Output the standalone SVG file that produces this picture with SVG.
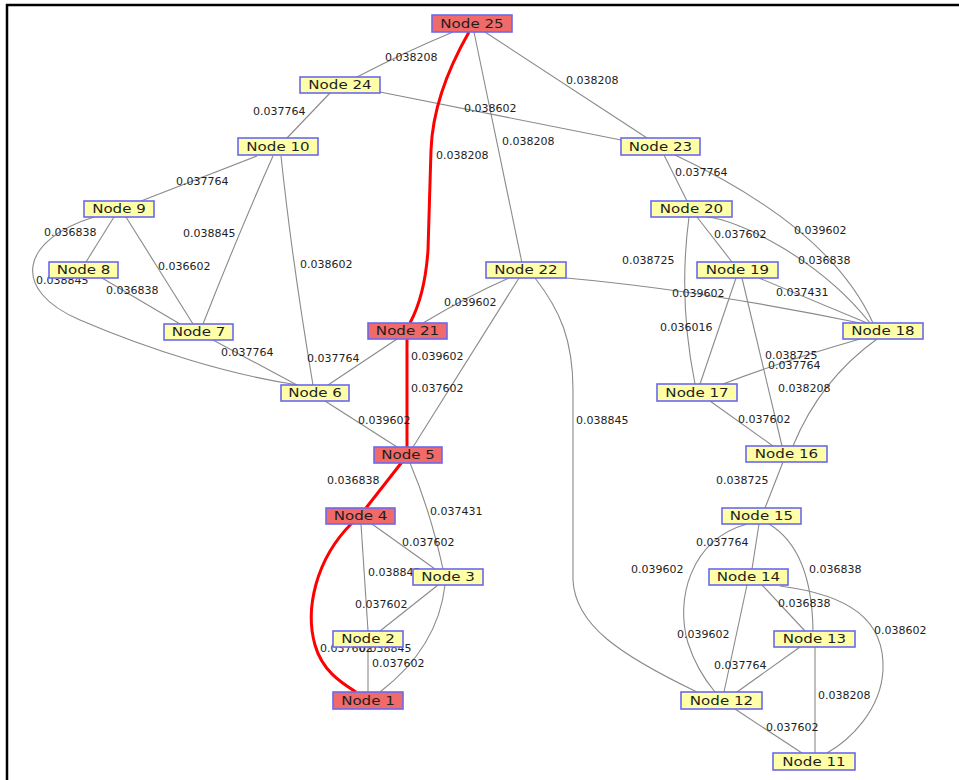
<svg xmlns="http://www.w3.org/2000/svg" width="959" height="780" viewBox="0 0 959 780">
<style>
  .edge { fill: none; stroke: #8a8a8a; stroke-width: 1.1; }
  .path { fill: none; stroke: #ff0000; stroke-width: 3; }
  .lbl { font: 11px "DejaVu Sans", sans-serif; fill: #1e1e1e; }
  .box { fill: #ffffa8; stroke: #6a6af2; stroke-width: 1.6; }
  .hot .box { fill: #f06a6a; }
  .nt { font: 13px "DejaVu Sans", sans-serif; fill: #1e1e1e; text-anchor: middle;
        transform-box: fill-box; transform-origin: center; transform: scaleX(1.16); }
</style>
<rect width="959" height="780" fill="#ffffff"/>
<!-- frame -->
<path d="M7,780 L7,5 L959,5" fill="none" stroke="#000" stroke-width="2.5"/>

<g id="connectors">
  <!-- left half -->
  <path class="edge" d="M453,32 Q405,52 357,77"/>
  <path class="edge" d="M330,93 L287,138"/>
  <path class="edge" d="M380,92 L621,140"/>
  <path class="edge" d="M485,32 L647,138"/>
  <path class="edge" d="M474,32 L522,263"/>
  <path class="edge" d="M257,156 L141,201"/>
  <path class="edge" d="M273,156 Q240,230 203,324"/>
  <path class="edge" d="M281,156 Q292,260 313,385"/>
  <path class="edge" d="M114,217 L86,262"/>
  <path class="edge" d="M126,217 L193,324"/>
  <path class="edge" d="M94,217 C20,240 10,290 80,320 C150,350 230,375 298,385"/>
  <path class="edge" d="M102,278 L180,324"/>
  <path class="edge" d="M213,340 L297,385"/>
  <path class="edge" d="M397,339 L328,385"/>
  <path class="edge" d="M325,401 L397,447"/>
  <path class="edge" d="M423,323 Q470,295 509,278"/>
  <path class="edge" d="M519,278 L413,447"/>
  <path class="edge" d="M535,278 C560,310 573,340 573,390 L573,580 C575,625 620,655 697,692"/>
  <path class="edge" d="M410,463 Q430,510 443,569"/>
  <path class="edge" d="M372,524 L435,569"/>
  <path class="edge" d="M361,524 L368,631"/>
  <path class="edge" d="M438,585 L380,631"/>
  <path class="edge" d="M445,585 C440,630 415,665 380,692"/>
  <path class="edge" d="M368,647 L368,692"/>
  <!-- right half -->
  <path class="edge" d="M664,155 L687,201"/>
  <path class="edge" d="M675,155 C760,195 840,250 873,323"/>
  <path class="edge" d="M697,217 L732,262"/>
  <path class="edge" d="M707,217 C740,220 820,260 870,323"/>
  <path class="edge" d="M689,217 Q678,300 695,384"/>
  <path class="edge" d="M736,278 L700,384"/>
  <path class="edge" d="M742,278 L782,446"/>
  <path class="edge" d="M566,278 Q700,290 860,323"/>
  <path class="edge" d="M759,278 L867,323"/>
  <path class="edge" d="M860,339 Q780,362 723,384"/>
  <path class="edge" d="M877,339 Q820,380 793,446"/>
  <path class="edge" d="M710,401 L773,446"/>
  <path class="edge" d="M783,462 L765,508"/>
  <path class="edge" d="M759,524 L752,569"/>
  <path class="edge" d="M747,524 C690,540 675,600 688,643 C695,665 705,680 715,692"/>
  <path class="edge" d="M769,524 Q812,550 813,631"/>
  <path class="edge" d="M762,585 L805,631"/>
  <path class="edge" d="M780,586 C850,595 885,620 883,670 C881,710 850,740 827,753"/>
  <path class="edge" d="M747,585 Q735,640 724,692"/>
  <path class="edge" d="M800,647 L737,692"/>
  <path class="edge" d="M815,647 L815,753"/>
  <path class="edge" d="M735,709 L802,753"/>
  <!-- highlighted route 25-21-5-4-1 -->
  <path class="path" d="M469,32 Q433,95 431,150 L428,250 Q425,295 410,323"/>
  <path class="path" d="M407,339 L407,447"/>
  <path class="path" d="M402,462 L366,508"/>
  <path class="path" d="M352,523 C315,560 305,610 315,645 C322,670 340,682 356,692"/>
</g>

<g id="weights">
  <text class="lbl" x="385" y="61">0.038208</text>
  <text class="lbl" x="253" y="115">0.037764</text>
  <text class="lbl" x="464" y="112">0.038602</text>
  <text class="lbl" x="566" y="84">0.038208</text>
  <text class="lbl" x="502" y="145">0.038208</text>
  <text class="lbl" x="436" y="159">0.038208</text>
  <text class="lbl" x="176" y="185">0.037764</text>
  <text class="lbl" x="44" y="236">0.036838</text>
  <text class="lbl" x="183" y="237">0.038845</text>
  <text class="lbl" x="158" y="270">0.036602</text>
  <text class="lbl" x="300" y="268">0.038602</text>
  <text class="lbl" x="36" y="284">0.038845</text>
  <text class="lbl" x="106" y="294">0.036838</text>
  <text class="lbl" x="221" y="356">0.037764</text>
  <text class="lbl" x="307" y="362">0.037764</text>
  <text class="lbl" x="444" y="306">0.039602</text>
  <text class="lbl" x="411" y="360">0.039602</text>
  <text class="lbl" x="411" y="392">0.037602</text>
  <text class="lbl" x="358" y="424">0.039602</text>
  <text class="lbl" x="576" y="424">0.038845</text>
  <text class="lbl" x="327" y="484">0.036838</text>
  <text class="lbl" x="430" y="515">0.037431</text>
  <text class="lbl" x="402" y="546">0.037602</text>
  <text class="lbl" x="368" y="576">0.038845</text>
  <text class="lbl" x="355" y="608">0.037602</text>
  <text class="lbl" x="320" y="652">0.037602</text>
  <text class="lbl" x="359" y="652">0.038845</text>
  <text class="lbl" x="372" y="667">0.037602</text>
  <text class="lbl" x="675" y="176">0.037764</text>
  <text class="lbl" x="794" y="234">0.039602</text>
  <text class="lbl" x="714" y="238">0.037602</text>
  <text class="lbl" x="622" y="264">0.038725</text>
  <text class="lbl" x="798" y="264">0.036838</text>
  <text class="lbl" x="672" y="297">0.039602</text>
  <text class="lbl" x="776" y="296">0.037431</text>
  <text class="lbl" x="660" y="331">0.036016</text>
  <text class="lbl" x="765" y="359">0.038725</text>
  <text class="lbl" x="768" y="369">0.037764</text>
  <text class="lbl" x="778" y="392">0.038208</text>
  <text class="lbl" x="738" y="423">0.037602</text>
  <text class="lbl" x="716" y="484">0.038725</text>
  <text class="lbl" x="696" y="546">0.037764</text>
  <text class="lbl" x="631" y="573">0.039602</text>
  <text class="lbl" x="809" y="573">0.036838</text>
  <text class="lbl" x="778" y="607">0.036838</text>
  <text class="lbl" x="874" y="634">0.038602</text>
  <text class="lbl" x="677" y="638">0.039602</text>
  <text class="lbl" x="714" y="669">0.037764</text>
  <text class="lbl" x="818" y="699">0.038208</text>
  <text class="lbl" x="766" y="731">0.037602</text>
</g>

<g id="node25" class="hot"><rect class="box" x="432" y="15" width="80" height="17"/><text class="nt" x="472" y="28">Node 25</text></g>
<g id="node24"><rect class="box" x="300" y="77" width="80" height="16"/><text class="nt" x="340" y="89.5">Node 24</text></g>
<g id="node10"><rect class="box" x="238" y="138" width="80" height="17"/><text class="nt" x="278" y="151">Node 10</text></g>
<g id="node9"><rect class="box" x="84" y="201" width="70" height="16"/><text class="nt" x="119" y="213.5">Node 9</text></g>
<g id="node8"><rect class="box" x="49" y="262" width="69" height="16"/><text class="nt" x="83.5" y="274.5">Node 8</text></g>
<g id="node7"><rect class="box" x="164" y="324" width="69" height="16"/><text class="nt" x="198.5" y="336.5">Node 7</text></g>
<g id="node6"><rect class="box" x="281" y="385" width="68" height="16"/><text class="nt" x="315" y="397.5">Node 6</text></g>
<g id="node21" class="hot"><rect class="box" x="368" y="323" width="79" height="16"/><text class="nt" x="407.5" y="335.5">Node 21</text></g>
<g id="node22"><rect class="box" x="486" y="262" width="80" height="16"/><text class="nt" x="526" y="274.5">Node 22</text></g>
<g id="node5" class="hot"><rect class="box" x="374" y="447" width="68" height="16"/><text class="nt" x="408" y="459.5">Node 5</text></g>
<g id="node4" class="hot"><rect class="box" x="326" y="508" width="69" height="16"/><text class="nt" x="360.5" y="520.5">Node 4</text></g>
<g id="node3"><rect class="box" x="413" y="569" width="70" height="16"/><text class="nt" x="448" y="581.5">Node 3</text></g>
<g id="node2"><rect class="box" x="333" y="631" width="70" height="16"/><text class="nt" x="368" y="643.5">Node 2</text></g>
<g id="node1" class="hot"><rect class="box" x="333" y="692" width="70" height="17"/><text class="nt" x="368" y="705">Node 1</text></g>
<g id="node23"><rect class="box" x="621" y="138" width="79" height="17"/><text class="nt" x="660.5" y="151">Node 23</text></g>
<g id="node20"><rect class="box" x="651" y="201" width="81" height="16"/><text class="nt" x="691.5" y="213.5">Node 20</text></g>
<g id="node19"><rect class="box" x="697" y="262" width="81" height="16"/><text class="nt" x="737.5" y="274.5">Node 19</text></g>
<g id="node18"><rect class="box" x="843" y="323" width="80" height="16"/><text class="nt" x="883" y="335.5">Node 18</text></g>
<g id="node17"><rect class="box" x="657" y="384" width="80" height="17"/><text class="nt" x="697" y="397">Node 17</text></g>
<g id="node16"><rect class="box" x="746" y="446" width="81" height="16"/><text class="nt" x="786.5" y="458.5">Node 16</text></g>
<g id="node15"><rect class="box" x="722" y="508" width="79" height="16"/><text class="nt" x="761.5" y="520.5">Node 15</text></g>
<g id="node14"><rect class="box" x="709" y="569" width="79" height="16"/><text class="nt" x="748.5" y="581.5">Node 14</text></g>
<g id="node13"><rect class="box" x="774" y="631" width="81" height="16"/><text class="nt" x="814.5" y="643.5">Node 13</text></g>
<g id="node12"><rect class="box" x="681" y="692" width="81" height="17"/><text class="nt" x="721.5" y="705">Node 12</text></g>
<g id="node11"><rect class="box" x="773" y="753" width="82" height="17"/><text class="nt" x="814" y="766">Node 11</text></g>
</svg>
